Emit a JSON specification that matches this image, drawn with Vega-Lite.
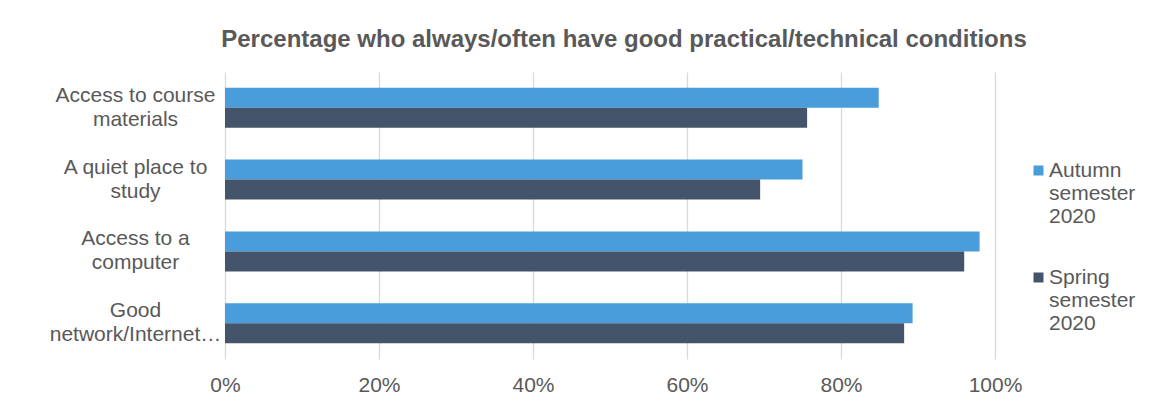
{
  "$schema": "https://vega.github.io/schema/vega-lite/v6.json",
  "width": 770,
  "height": 287,
  "autosize": {"type": "none"},
  "padding": {"left": 225, "top": 72, "right": 156, "bottom": 51},
  "background": "#ffffff",
  "config": {
    "font": "Liberation Sans",
    "view": {"stroke": null}
  },
  "title": {
    "text": "Percentage who always/often have good practical/technical conditions",
    "fontSize": 24,
    "fontWeight": "bold",
    "color": "#595959",
    "anchor": "middle",
    "dx": 14,
    "offset": 20
  },
  "data": {
    "values": [
      {"item": "Access to course materials", "semester": "Autumn semester 2020", "pct": 84.9},
      {"item": "Access to course materials", "semester": "Spring semester 2020", "pct": 75.6},
      {"item": "A quiet place to study", "semester": "Autumn semester 2020", "pct": 75.0},
      {"item": "A quiet place to study", "semester": "Spring semester 2020", "pct": 69.5},
      {"item": "Access to a computer", "semester": "Autumn semester 2020", "pct": 98.0},
      {"item": "Access to a computer", "semester": "Spring semester 2020", "pct": 96.0},
      {"item": "Good network/Internet connection", "semester": "Autumn semester 2020", "pct": 89.3},
      {"item": "Good network/Internet connection", "semester": "Spring semester 2020", "pct": 88.2}
    ]
  },
  "mark": {"type": "bar"},
  "encoding": {
    "y": {
      "field": "item",
      "type": "nominal",
      "sort": ["Access to course materials", "A quiet place to study", "Access to a computer", "Good network/Internet connection"],
      "scale": {"paddingInner": 0.4425, "paddingOuter": 0.221},
      "axis": {
        "title": null,
        "domain": false,
        "ticks": false,
        "labelFontSize": 21,
        "labelColor": "#595959",
        "labelAlign": "center",
        "labelBaseline": "middle",
        "labelPadding": 90,
        "labelOffset": -12,
        "labelLineHeight": 24,
        "labelLimit": 300,
        "labelExpr": "datum.value == 'Access to course materials' ? ['Access to course', 'materials'] : datum.value == 'A quiet place to study' ? ['A quiet place to', 'study'] : datum.value == 'Access to a computer' ? ['Access to a', 'computer'] : ['Good', 'network/Internet\u2026']"
      }
    },
    "yOffset": {
      "field": "semester",
      "type": "nominal",
      "sort": ["Autumn semester 2020", "Spring semester 2020"]
    },
    "x": {
      "field": "pct",
      "type": "quantitative",
      "scale": {"domain": [0, 100], "nice": false},
      "axis": {
        "title": null,
        "values": [0, 20, 40, 60, 80, 100],
        "labelExpr": "datum.value + '%'",
        "labelFlush": false,
        "domain": false,
        "ticks": false,
        "grid": true,
        "gridColor": "#d9d9d9",
        "gridWidth": 1.3,
        "labelFontSize": 21,
        "labelColor": "#595959",
        "labelPadding": 15
      }
    },
    "color": {
      "field": "semester",
      "type": "nominal",
      "sort": ["Autumn semester 2020", "Spring semester 2020"],
      "scale": {"range": ["#4a9ddb", "#44546a"]},
      "legend": {
        "title": null,
        "orient": "none",
        "legendX": 803,
        "legendY": 88,
        "symbolType": "square",
        "symbolSize": 100,
        "symbolStrokeWidth": 0,
        "labelFontSize": 21,
        "labelColor": "#595959",
        "labelOffset": 0,
        "labelLineHeight": 24,
        "labelBaseline": "top",
        "labelLimit": 200,
        "rowPadding": 39,
        "labelExpr": "split(datum.label, ' ')",
        "encode": {
          "labels": {"update": {"dy": {"value": -11}}}
        }
      }
    }
  }
}
